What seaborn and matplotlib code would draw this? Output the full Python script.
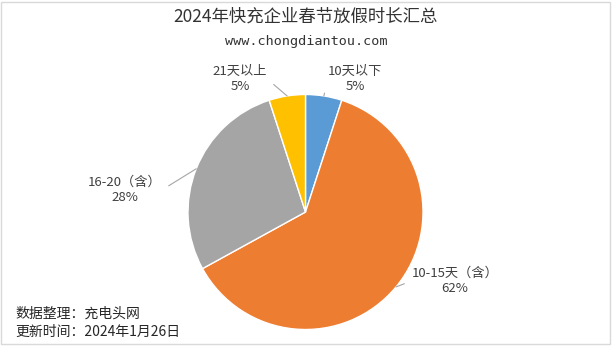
import numpy as np
import matplotlib
matplotlib.use('Agg')
import matplotlib.pyplot as plt
import seaborn as sns
from matplotlib.patches import Rectangle

# data
categories = ['10天以下', '10-15天（含）', '16-20（含）', '21天以上']
shares = [5, 62, 28, 5]
colors = ['#5B9BD5', '#ED7D31', '#A5A5A5', '#FFC000']

sns.set_theme(style='white')
plt.rcParams['font.family'] = ['Noto Sans CJK SC', 'DejaVu Sans']

W, H = 612, 352
fig = plt.figure(figsize=(W / 100, H / 100), dpi=100)
fig.patch.set_facecolor('white')

# outer frame
fig.add_artist(Rectangle((1 / W, 1 - 344 / H), 609 / W, 342 / H, transform=fig.transFigure,
                         fill=False, edgecolor='#D9D9D9', linewidth=1))

# pie axes: center (305.5, 212) px, radius 117.5 px
cx, cy, r = 305.5, 212, 117.5
ax = fig.add_axes([(cx - r) / W, 1 - (cy + r) / H, 2 * r / W, 2 * r / H])
wedges, _ = ax.pie(shares, colors=colors, startangle=90, counterclock=False,
                   wedgeprops=dict(edgecolor='white', linewidth=1))
ax.set_xlim(-1, 1)
ax.set_ylim(-1, 1)
ax.set_aspect('equal')
ax.axis('off')

# label positions (pixels) and connector attach points
label_pos = [(355, 79), (455, 281), (125, 190), (240, 79)]
relpos = [(0, 0.5), (0, 0.5), (1, 0.5), (1, 0.5)]

for w, name, val, (lx, ly), rp in zip(wedges, categories, shares, label_pos, relpos):
    ang = np.deg2rad((w.theta1 + w.theta2) / 2)
    xy = (np.cos(ang), np.sin(ang))
    ax.annotate(f'{name}\n{val}%', xy=xy, xycoords='data',
                xytext=(lx / W, 1 - ly / H), textcoords='figure fraction',
                ha='center', va='center', fontsize=9.5, color='#404040', linespacing=1.2,
                arrowprops=dict(arrowstyle='-', color='#A6A6A6', lw=0.8, relpos=rp,
                                shrinkA=3, shrinkB=0))

fig.text(0.5, 1 - 17 / H, '2024年快充企业春节放假时长汇总', ha='center', va='center',
         fontsize=12.5, color='#333333')
fig.text(0.5, 1 - 42 / H, 'www.chongdiantou.com', ha='center', va='center',
         fontsize=9.7, color='#333333', family=['DejaVu Sans Mono'])

fig.text(15 / W, 1 - 314 / H, '数据整理：充电头网', ha='left', va='center',
         fontsize=10, color='#262626')
fig.text(15 / W, 1 - 332 / H, '更新时间：2024年1月26日', ha='left', va='center',
         fontsize=10, color='#262626')

fig.savefig('out.png', dpi=100, facecolor='white')
